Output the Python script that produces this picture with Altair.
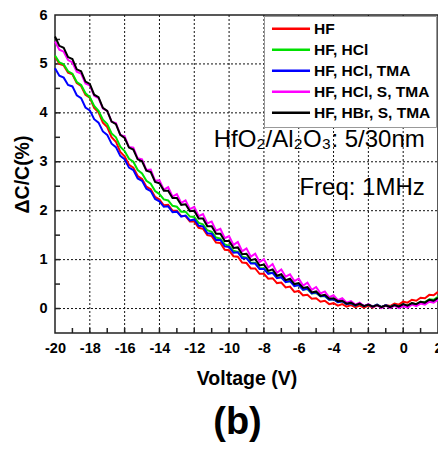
import altair as alt
import pandas as pd

FONT = "Liberation Sans"

VOLTAGE = [-20.0, -19.75, -19.5, -19.25, -19.0, -18.75, -18.5, -18.25, -18.0, -17.75, -17.5, -17.25,
           -17.0, -16.75, -16.5, -16.25, -16.0, -15.75, -15.5, -15.25, -15.0, -14.75, -14.5, -14.25,
           -14.0, -13.75, -13.5, -13.25, -13.0, -12.75, -12.5, -12.25, -12.0, -11.75, -11.5, -11.25,
           -11.0, -10.75, -10.5, -10.25, -10.0, -9.75, -9.5, -9.25, -9.0, -8.75, -8.5, -8.25,
           -8.0, -7.75, -7.5, -7.25, -7.0, -6.75, -6.5, -6.25, -6.0, -5.75, -5.5, -5.25,
           -5.0, -4.75, -4.5, -4.25, -4.0, -3.75, -3.5, -3.25, -3.0, -2.75, -2.5, -2.25,
           -2.0, -1.75, -1.5, -1.25, -1.0, -0.75, -0.5, -0.25, 0.0, 0.25, 0.5, 0.75,
           1.0, 1.25, 1.5, 1.75, 2.0]

SERIES = ["HF", "HF, HCl", "HF, HCl, TMA", "HF, HCl, S, TMA", "HF, HBr, S, TMA"]
COLORS = ["#ff0000", "#00e000", "#0000ff", "#ff00ff", "#000000"]

HF = [5.15,
      5.00, 4.97, 4.82, 4.79, 4.61, 4.55, 4.37, 4.31, 4.10, 4.01, 3.80, 3.71,
      3.50, 3.41, 3.20, 3.11, 2.94, 2.88, 2.71, 2.65, 2.49, 2.44, 2.28, 2.23,
      2.11, 2.12, 2.00, 2.00, 1.89, 1.89, 1.78, 1.78, 1.65, 1.63, 1.50, 1.48,
      1.35, 1.34, 1.20, 1.19, 1.07, 1.06, 0.94, 0.93, 0.82, 0.82, 0.71, 0.71,
      0.61, 0.62, 0.52, 0.53, 0.43, 0.45, 0.34, 0.36, 0.27, 0.28, 0.20, 0.21,
      0.14, 0.16, 0.09, 0.11, 0.06, 0.09, 0.04, 0.07, 0.03, 0.06, 0.02, 0.06,
      0.02, 0.07, 0.03, 0.07, 0.05, 0.10, 0.08, 0.14, 0.12, 0.18, 0.16, 0.22,
      0.21, 0.28, 0.27, 0.34]

HF_HCL = [5.17,
          5.03, 4.99, 4.85, 4.80, 4.63, 4.57, 4.40, 4.32, 4.14, 4.04, 3.86, 3.77,
          3.58, 3.50, 3.31, 3.22, 3.06, 3.00, 2.83, 2.76, 2.61, 2.55, 2.40, 2.34,
          2.23, 2.21, 2.10, 2.08, 1.98, 1.98, 1.88, 1.87, 1.75, 1.72, 1.60, 1.57,
          1.45, 1.43, 1.31, 1.28, 1.18, 1.16, 1.06, 1.04, 0.94, 0.93, 0.83, 0.82,
          0.73, 0.73, 0.64, 0.64, 0.55, 0.56, 0.47, 0.48, 0.39, 0.40, 0.31, 0.32,
          0.25, 0.25, 0.18, 0.19, 0.13, 0.15, 0.09, 0.11, 0.06, 0.10, 0.05, 0.08,
          0.04, 0.08, 0.03, 0.07, 0.03, 0.07, 0.04, 0.08, 0.06, 0.11, 0.09, 0.14,
          0.13, 0.19, 0.18, 0.24]

HF_HCL_TMA = [4.91,
              4.76, 4.72, 4.57, 4.54, 4.36, 4.30, 4.11, 4.05, 3.87, 3.80, 3.62, 3.55,
              3.37, 3.30, 3.12, 3.05, 2.88, 2.83, 2.66, 2.61, 2.45, 2.40, 2.24, 2.19,
              2.08, 2.09, 1.97, 1.98, 1.88, 1.90, 1.80, 1.82, 1.69, 1.68, 1.54, 1.53,
              1.40, 1.40, 1.27, 1.26, 1.14, 1.15, 1.03, 1.03, 0.92, 0.92, 0.81, 0.81,
              0.71, 0.73, 0.62, 0.64, 0.54, 0.56, 0.46, 0.48, 0.38, 0.41, 0.31, 0.33,
              0.25, 0.26, 0.18, 0.19, 0.13, 0.15, 0.09, 0.11, 0.06, 0.10, 0.05, 0.08,
              0.04, 0.08, 0.03, 0.07, 0.03, 0.07, 0.04, 0.08, 0.05, 0.10, 0.07, 0.12,
              0.10, 0.16, 0.14, 0.20]

HF_HCL_S_TMA = [5.46,
                5.29, 5.25, 5.08, 5.03, 4.84, 4.80, 4.60, 4.56, 4.35, 4.30, 4.09, 4.04,
                3.82, 3.79, 3.55, 3.52, 3.30, 3.29, 3.07, 3.05, 2.83, 2.84, 2.61, 2.62,
                2.43, 2.48, 2.29, 2.34, 2.16, 2.21, 2.03, 2.08, 1.89, 1.93, 1.74, 1.78,
                1.59, 1.63, 1.44, 1.48, 1.30, 1.36, 1.17, 1.23, 1.06, 1.12, 0.95, 1.01,
                0.84, 0.91, 0.73, 0.80, 0.65, 0.70, 0.56, 0.61, 0.47, 0.53, 0.38, 0.44,
                0.31, 0.35, 0.23, 0.27, 0.17, 0.21, 0.12, 0.15, 0.08, 0.12, 0.05, 0.09,
                0.03, 0.07, 0.01, 0.06, 0.01, 0.06, 0.01, 0.05, 0.02, 0.08, 0.05, 0.10,
                0.08, 0.14, 0.12, 0.18]

HF_HBR_S_TMA = [5.56,
                5.37, 5.33, 5.14, 5.10, 4.89, 4.85, 4.64, 4.59, 4.37, 4.32, 4.10, 4.04,
                3.82, 3.77, 3.55, 3.49, 3.29, 3.25, 3.05, 3.01, 2.82, 2.79, 2.59, 2.56,
                2.41, 2.41, 2.26, 2.26, 2.12, 2.13, 1.99, 2.00, 1.84, 1.84, 1.68, 1.68,
                1.53, 1.53, 1.38, 1.38, 1.24, 1.25, 1.11, 1.12, 0.99, 1.01, 0.88, 0.90,
                0.77, 0.80, 0.67, 0.70, 0.58, 0.61, 0.50, 0.52, 0.42, 0.44, 0.33, 0.35,
                0.26, 0.28, 0.20, 0.21, 0.15, 0.16, 0.10, 0.12, 0.07, 0.10, 0.05, 0.08,
                0.04, 0.07, 0.03, 0.06, 0.03, 0.07, 0.04, 0.09, 0.06, 0.11, 0.09, 0.14,
                0.12, 0.18, 0.16, 0.22]

X_TICKS = [-20, -18, -16, -14, -12, -10, -8, -6, -4, -2, 0, 2]
X_MINOR = [-19, -18, -17, -16, -15, -14, -13, -12, -11, -10, -9, -8, -7, -6, -5, -4,
           -3, -2, -1, 0, 1]
Y_TICKS = [0, 1, 2, 3, 4, 5, 6]
Y_MINOR = [0, 0.5, 1, 1.5, 2, 2.5, 3, 3.5, 4, 4.5, 5, 5.5]
X_GRID = [-18, -16, -14, -12, -10, -8, -6, -4, -2, 0]
Y_GRID = [0, 1, 2, 3, 4, 5]

ANNOT_TEXT = ["HfO₂/Al₂O₃: 5/30nm", "Freq: 1MHz"]
ANNOT_X = [1.24, 1.24]
ANNOT_Y = [3.31, 2.33]

rows = []
for name, vals in zip(SERIES, [HF, HF_HCL, HF_HCL_TMA, HF_HCL_S_TMA, HF_HBR_S_TMA]):
    assert len(vals) == len(VOLTAGE), (name, len(vals))
    for v, c in zip(VOLTAGE, vals):
        rows.append({"V": v, "dC": c, "series": name})
df = pd.DataFrame(rows)

W, H = 383, 318
TICK = 5
x_scale = alt.Scale(domain=[-20, 2], nice=False, zero=False)
y_scale = alt.Scale(domain=[-0.5, 6], nice=False, zero=False)

legend = alt.Legend(
    orient="none", legendX=209, legendY=1,
    symbolType="M-3.17,0H3.17", symbolSize=144, symbolStrokeWidth=2.5,
    symbolOffset=14.25, labelOffset=15.25, rowPadding=4, padding=5,
    strokeColor="#999999", fillColor="white",
    labelFont=FONT, labelFontSize=15.5, labelFontWeight="bold", labelColor="black",
    labelLimit=300,
)
color = alt.Color("series:N", scale=alt.Scale(domain=SERIES, range=COLORS),
                  title=None, legend=legend)

main_x = alt.Axis(orient="bottom", values=X_TICKS, title="Voltage (V)", grid=False,
                  ticks=False, tickSize=0, domain=False, labelFlush=False,
                  labelFont=FONT, labelFontSize=14.5, labelFontWeight="bold",
                  labelColor="black", labelPadding=8, labelExpr="'' + datum.value",
                  titleFont=FONT, titleFontSize=19.5, titleFontWeight="bold",
                  titleColor="black", titlePadding=15)
main_y = alt.Axis(orient="left", values=Y_TICKS, title="ΔC/C(%)", grid=False,
                  ticks=False, tickSize=0, domain=False, labelFlush=False,
                  labelFont=FONT, labelFontSize=14.5, labelFontWeight="bold",
                  labelColor="black", labelPadding=8, labelExpr="'' + datum.value",
                  titleFont=FONT, titleFontSize=19.5, titleFontWeight="bold",
                  titleColor="black", titlePadding=6)

# dotted grid lines (these layers also carry the axes)
grid_x = alt.Chart(pd.DataFrame({"gx": X_GRID})).mark_rule(
    strokeDash=[2, 2], color="#111111", strokeWidth=1
).encode(x=alt.X("gx:Q", scale=x_scale, axis=main_x), y=alt.value(0), y2=alt.value(H))
grid_y = alt.Chart(pd.DataFrame({"gy": Y_GRID})).mark_rule(
    strokeDash=[2, 2], color="#111111", strokeWidth=1
).encode(y=alt.Y("gy:Q", scale=y_scale, axis=main_y), x=alt.value(0), x2=alt.value(W))

# inward ticks on bottom and left frame
tick_x = alt.Chart(pd.DataFrame({"tx": X_MINOR})).mark_rule(
    color="#222222", strokeWidth=1.5
).encode(x=alt.X("tx:Q", scale=x_scale, axis=None), y=alt.value(H), y2=alt.value(H - TICK))
tick_y = alt.Chart(pd.DataFrame({"ty": Y_MINOR})).mark_rule(
    color="#222222", strokeWidth=1.5
).encode(y=alt.Y("ty:Q", scale=y_scale, axis=None), x=alt.value(0), x2=alt.value(TICK))

base = alt.Chart(df)


def line_layer(name):
    return base.transform_filter(alt.datum.series == name).mark_line(strokeWidth=2).encode(
        x=alt.X("V:Q", scale=x_scale, axis=None),
        y=alt.Y("dC:Q", scale=y_scale, axis=None),
        color=color,
    )


layers = [line_layer(s) for s in SERIES]

ann = alt.Chart(pd.DataFrame({"x": ANNOT_X, "y": ANNOT_Y, "t": ANNOT_TEXT})).mark_text(
    align="right", baseline="alphabetic", fontSize=24, font=FONT, color="black"
).encode(
    x=alt.X("x:Q", scale=x_scale, axis=None),
    y=alt.Y("y:Q", scale=y_scale, axis=None),
    text="t:N",
)

chart = alt.layer(grid_x, grid_y, tick_x, tick_y, *layers, ann).resolve_axis(
    x="independent", y="independent"
).properties(
    width=W, height=H,
    autosize=alt.AutoSizeParams(type="none"),
    padding={"left": 47, "top": 7, "right": 0, "bottom": 113},
    title=alt.TitleParams("(b)", orient="bottom", fontSize=38, fontWeight="bold", font=FONT,
                          color="black", anchor="middle", offset=16, dx=-9),
).configure_view(stroke="#222222", strokeWidth=1.5)

chart.save("out.html", embed_options={"renderer": "svg", "actions": False})
